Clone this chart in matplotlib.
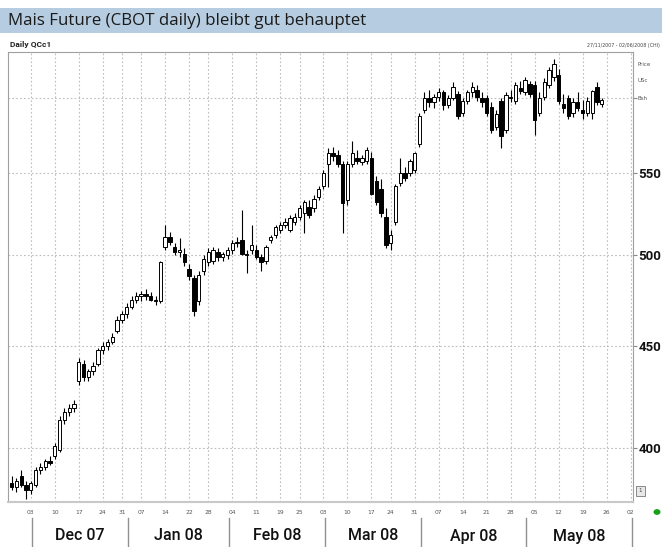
import matplotlib
matplotlib.use("Agg")
import matplotlib.pyplot as plt
import matplotlib.transforms as mtransforms
from matplotlib.patches import Rectangle, Circle
import numpy as np
import pandas as pd

# trading days shown on the axis (CBOT holidays left out)
holidays = ["2007-12-25", "2008-01-01", "2008-01-21", "2008-02-18", "2008-03-21"]
axis_days = pd.bdate_range("2007-11-27", "2008-06-02")
axis_days = axis_days[~axis_days.isin(pd.to_datetime(holidays))]

# daily OHLC, US cents per bushel
opens = [384, 382, 387, 383, 381, 383, 390, 391, 394, 396,
         399, 413, 417, 419, 432, 441, 434, 437, 441, 448,
         450, 452, 458, 464, 467, 471, 475, 477, 478, 477,
         475, 474, 505, 511, 505, 502, 501, 492, 487, 474,
         491, 496, 497, 502, 499, 500, 503, 507, 509, 501,
         503, 503, 499, 497, 509, 512, 515, 518, 515, 520,
         523, 525, 529, 528, 535, 542, 556, 563, 562, 556,
         533, 556, 560, 557, 558, 560, 545, 540, 523, 507,
         520, 544, 550, 550, 552, 569, 592, 600, 597, 601,
         604, 595, 600, 603, 590, 598, 604, 606, 600, 600,
         594, 580, 598, 578, 601, 598, 607, 604, 610, 609,
         590, 601, 609, 615, 616, 596, 600, 590, 597, 592,
         590, 590, 608, 596]
highs = [387, 386, 390, 385, 385, 391, 393, 395, 396, 402,
         415, 419, 421, 423, 444, 443, 438, 442, 449, 452,
         454, 457, 466, 469, 473, 477, 479, 480, 481, 479,
         477, 497, 518, 514, 507, 510, 504, 495, 489, 491,
         500, 504, 505, 504, 502, 505, 509, 511, 527, 503,
         518, 506, 501, 506, 512, 518, 520, 522, 524, 525,
         530, 533, 533, 536, 542, 552, 566, 567, 565, 558,
         558, 571, 565, 562, 567, 564, 548, 546, 528, 515,
         543, 560, 554, 559, 564, 590, 604, 606, 603, 607,
         606, 602, 611, 605, 600, 606, 611, 609, 604, 602,
         597, 592, 600, 604, 606, 611, 612, 615, 612, 612,
         604, 614, 622, 628, 621, 603, 602, 600, 604, 599,
         601, 606, 611, 600]
lows = [381, 380, 382, 377, 379, 382, 388, 390, 392, 395,
        398, 411, 415, 417, 430, 432, 432, 435, 440, 446,
        448, 451, 457, 462, 465, 470, 473, 474, 475, 474,
        472, 473, 503, 506, 500, 499, 494, 486, 466, 472,
        489, 494, 495, 497, 497, 498, 501, 505, 500, 490,
        501, 498, 491, 495, 507, 510, 513, 516, 514, 518,
        521, 513, 522, 526, 533, 540, 541, 558, 554, 513,
        530, 554, 556, 555, 556, 536, 530, 523, 504, 503,
        518, 542, 545, 548, 550, 567, 590, 594, 593, 598,
        592, 593, 599, 586, 588, 596, 601, 598, 594, 588,
        576, 578, 566, 576, 597, 596, 603, 602, 601, 575,
        588, 599, 607, 612, 596, 590, 586, 587, 591, 586,
        588, 586, 595, 594]
closes = [382, 385, 383, 381, 384, 390, 391, 394, 393, 401,
          413, 417, 419, 421, 442, 434, 437, 440, 448, 450,
          452, 455, 464, 467, 471, 475, 477, 478, 477, 475,
          474, 496, 511, 508, 502, 503, 496, 488, 469, 489,
          498, 502, 503, 499, 501, 503, 507, 508, 501, 500,
          506, 499, 496, 505, 511, 517, 518, 520, 522, 523,
          528, 532, 524, 534, 540, 550, 563, 561, 556, 531,
          556, 563, 558, 560, 565, 537, 532, 525, 506, 512,
          542, 550, 547, 558, 563, 588, 600, 597, 601, 604,
          595, 600, 608, 588, 598, 604, 608, 601, 597, 590,
          578, 589, 574, 602, 600, 609, 605, 613, 603, 585,
          600, 611, 620, 624, 598, 593, 588, 597, 593, 590,
          598, 605, 597, 599]

y_ticks = [400, 450, 500, 550, 600]
y_labels = ["400", "450", "500", "550", ""]
month_names = ["Dec 07", "Jan 08", "Feb 08", "Mar 08", "Apr 08", "May 08"]

small = ["DejaVu Sans"]
label_font = ["Roboto", "DejaVu Sans"]

fig = plt.figure(figsize=(6.62, 5.47), dpi=100)
W, H = 662, 547

# title bar
fig.add_artist(Rectangle((0, 1 - 33 / H), 1, 25 / H, transform=fig.transFigure,
                         facecolor="#b6cce0", edgecolor="none", zorder=0))
fig.text(8 / W, 1 - 21 / H, "Mais Future (CBOT daily) bleibt gut behauptet",
         fontsize=12.2, family=["Open Sans", "DejaVu Sans"], color="#1a1a1a",
         va="center", ha="left")
fig.text(10 / W, 1 - 44 / H, "Daily QCc1", fontsize=6, family=label_font,
         weight="bold", color="#222222", va="center")
fig.text(660 / W, 1 - 46 / H, "27/11/2007 - 02/06/2008 (CHI)", fontsize=3.4,
         family=small, color="#444444", va="center", ha="right")

ax = fig.add_axes([8 / W, 45 / H, 625 / W, 450 / H])
ax.set_yscale("log")

x = np.arange(len(closes))
o = np.array(opens)
c = np.array(closes)
up = c >= o

# wicks then bodies
ax.vlines(x, lows, highs, color="black", linewidth=0.8, zorder=3)
bottoms = np.minimum(o, c)
heights = np.maximum(np.abs(c - o), 0.4)
ax.bar(x[up], heights[up], bottom=bottoms[up], width=0.7, facecolor="white",
       edgecolor="black", linewidth=0.7, zorder=4)
ax.bar(x[~up], heights[~up], bottom=bottoms[~up], width=0.7, facecolor="black",
       edgecolor="black", linewidth=0.7, zorder=4)

ax.set_xlim(-0.75, 129.5)
ax.set_ylim(375.6, 633)

# weekly grid on first trading day of each week
dates = pd.Series(axis_days)
week_start = [i for i in range(1, len(dates))
              if dates[i].isocalendar().week != dates[i - 1].isocalendar().week]
ax.set_xticks(week_start)
ax.set_xticklabels([])
ax.tick_params(axis="x", length=0)
for i in week_start:
    ax.axvline(i, color="#bdbdbd", linestyle=(0, (1.5, 2)), linewidth=0.8, zorder=1)
for v in y_ticks:
    ax.axhline(v, color="#bdbdbd", linestyle=(0, (1.5, 2)), linewidth=0.8, zorder=1)

ax.yaxis.tick_right()
ax.set_yticks(y_ticks)
ax.set_yticklabels(y_labels, fontsize=9.5, family=label_font, weight="bold",
                   color="#111111")
ax.yaxis.set_minor_locator(matplotlib.ticker.NullLocator())
ax.tick_params(axis="y", length=3, color="#888888", pad=1)

for side in ["left", "top", "right"]:
    ax.spines[side].set_color("#a0a0a0")
    ax.spines[side].set_linewidth(0.8)
ax.spines["bottom"].set_color("#c8c8c8")
ax.spines["bottom"].set_linewidth(1.5)

trans = mtransforms.blended_transform_factory(ax.transData, fig.transFigure)

# day-of-month labels under the weekly grid
for i in week_start:
    ax.text(i, 1 - 512 / H, dates[i].strftime("%d"), transform=trans, fontsize=4.3,
            family=small, color="#555555", ha="center", va="center", clip_on=False)

# month separators and labels
month_first = [i for i in range(1, len(dates)) if dates[i].month != dates[i - 1].month]
seps = [m + 0.3 for m in month_first]
for s in seps:
    ax.plot([s, s], [1 - 518 / H, 1 - 547 / H], transform=trans, color="#909090",
            linewidth=1.0, clip_on=False)
for k, name in enumerate(month_names):
    ax.text((seps[k] + seps[k + 1]) / 2, 1 - 536 / H, name, transform=trans,
            fontsize=11.5, family=label_font, weight="medium",
            color="#111111", ha="center", va="center", clip_on=False)

# unit labels at the top right
for yy, t in [(64, "Price"), (81, "USc"), (98, "Bsh")]:
    fig.text(637 / W, 1 - yy / H, t, fontsize=4, family=small, color="#555555",
             va="center", ha="left")

fig.add_artist(Rectangle((636 / W, 1 - 496 / H), 9 / W, 10 / H, transform=fig.transFigure,
                         facecolor="#e8e8e8", edgecolor="#888888", linewidth=0.7))
fig.text(640.5 / W, 1 - 491 / H, "1", fontsize=4, color="#444444", ha="center", va="center")
fig.add_artist(Circle((657 / W, 1 - 512 / H), 3.5 / W, transform=fig.transFigure,
                      facecolor="#18a018", edgecolor="none"))

fig.savefig("out.png", dpi=100)
